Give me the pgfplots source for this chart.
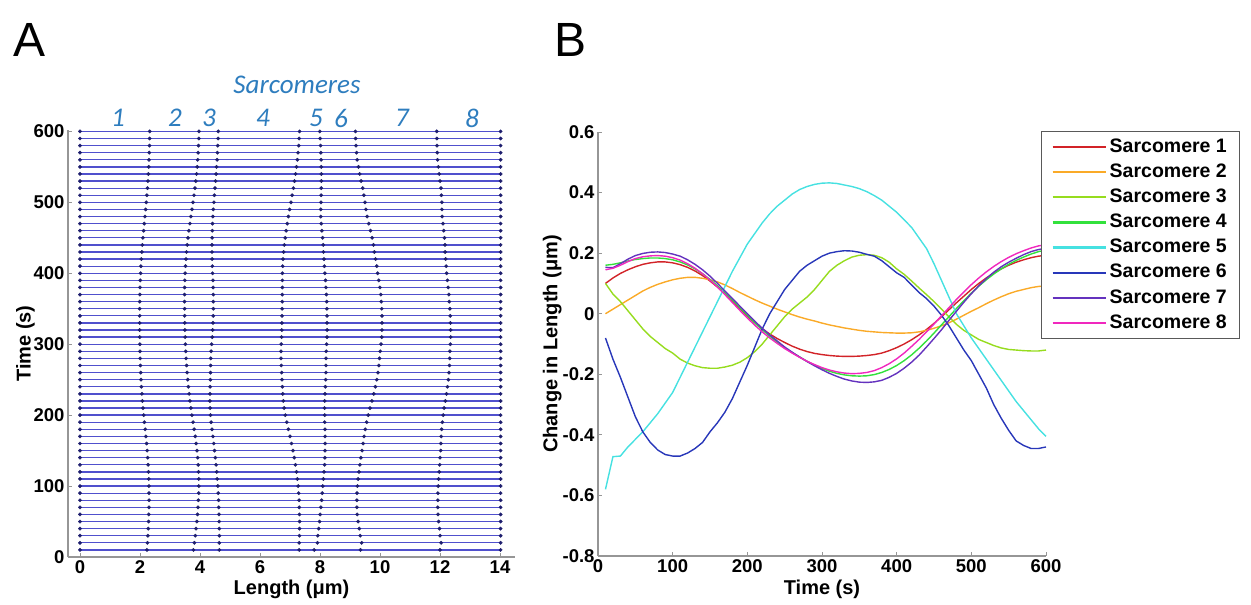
\documentclass[border=0pt]{standalone}
\usepackage{fontspec}
\setmainfont{Liberation Sans}
\newfontfamily\carlito{Carlito}
\usepackage{pgfplots}
\usepackage{pgfplotstable}
\pgfplotsset{compat=1.18}

\definecolor{zline}{RGB}{80,80,205}
\definecolor{zdot}{RGB}{30,30,110}
\definecolor{sblue}{RGB}{46,125,190}
\definecolor{axgray}{RGB}{150,150,150}
\definecolor{cA}{RGB}{210,35,40}
\definecolor{cB}{RGB}{250,170,40}
\definecolor{cC}{RGB}{150,220,30}
\definecolor{cD}{RGB}{50,225,60}
\definecolor{cE}{RGB}{70,225,225}
\definecolor{cF}{RGB}{40,55,185}
\definecolor{cG}{RGB}{100,50,190}
\definecolor{cH}{RGB}{240,40,190}

\pgfplotstableread{
t b0 b1 b2 b3 b4 b5 b6 b7 b8
10 0 2.230 3.780 4.645 7.305 7.805 9.350 11.998 14.02
20 0 2.248 3.813 4.643 7.306 7.914 9.389 12.036 14.02
30 0 2.263 3.843 4.648 7.316 7.926 9.341 12.001 14.02
40 0 2.275 3.870 4.645 7.319 7.959 9.309 11.984 14.02
50 0 2.285 3.895 4.640 7.319 7.984 9.269 11.956 14.02
60 0 2.293 3.918 4.633 7.315 8.005 9.240 11.934 14.02
70 0 2.298 3.935 4.625 7.309 8.029 9.229 11.927 14.02
80 0 2.301 3.948 4.618 7.302 8.052 9.227 11.926 14.02
90 0 2.301 3.956 4.606 7.288 8.073 9.233 11.930 14.02
100 0 2.298 3.960 4.595 7.273 8.093 9.248 11.940 14.02
110 0 2.292 3.959 4.574 7.245 8.115 9.270 11.955 14.02
120 0 2.283 3.953 4.555 7.216 8.136 9.301 11.974 14.02
130 0 2.271 3.941 4.534 7.182 8.152 9.332 11.990 14.02
140 0 2.256 3.923 4.510 7.142 8.162 9.362 12.002 14.02
150 0 2.238 3.900 4.485 7.098 8.168 9.403 12.022 14.02
160 0 2.218 3.873 4.458 7.050 8.170 9.435 12.030 14.02
170 0 2.196 3.841 4.430 6.999 8.169 9.469 12.039 14.02
180 0 2.172 3.805 4.400 6.945 8.165 9.510 12.055 14.02
190 0 2.147 3.767 4.372 6.892 8.157 9.557 12.077 14.02
200 0 2.122 3.730 4.350 6.845 8.155 9.610 12.105 14.02
210 0 2.100 3.696 4.336 6.806 8.151 9.666 12.136 14.02
220 0 2.080 3.665 4.330 6.777 8.157 9.732 12.179 14.02
230 0 2.063 3.638 4.333 6.759 8.169 9.794 12.219 14.02
240 0 2.048 3.613 4.338 6.744 8.179 9.844 12.249 14.02
250 0 2.035 3.591 4.346 6.734 8.189 9.894 12.279 14.02
260 0 2.023 3.570 4.350 6.722 8.197 9.932 12.300 14.02
270 0 2.013 3.552 4.352 6.709 8.199 9.964 12.316 14.02
280 0 2.005 3.537 4.357 6.700 8.200 9.985 12.322 14.02
290 0 1.999 3.525 4.370 6.700 8.207 10.007 12.330 14.02
300 0 1.995 3.514 4.389 6.708 8.219 10.034 12.344 14.02
310 0 1.992 3.505 4.410 6.720 8.232 10.057 12.355 14.02
320 0 1.990 3.498 4.423 6.726 8.236 10.066 12.354 14.02
330 0 1.989 3.492 4.432 6.730 8.235 10.068 12.347 14.02
340 0 1.989 3.488 4.440 6.735 8.235 10.067 12.340 14.02
350 0 1.990 3.485 4.443 6.737 8.230 10.058 12.327 14.02
360 0 1.992 3.484 4.444 6.739 8.222 10.043 12.311 14.02
370 0 1.995 3.485 4.443 6.742 8.212 10.027 12.297 14.02
380 0 2.000 3.488 4.438 6.744 8.199 9.999 12.274 14.02
390 0 2.008 3.495 4.430 6.746 8.181 9.961 12.246 14.02
400 0 2.018 3.504 4.417 6.746 8.161 9.921 12.219 14.02
410 0 2.030 3.516 4.411 6.756 8.146 9.891 12.206 14.02
420 0 2.044 3.531 4.404 6.768 8.133 9.853 12.188 14.02
430 0 2.060 3.550 4.400 6.786 8.116 9.811 12.169 14.02
440 0 2.078 3.573 4.401 6.811 8.106 9.781 12.166 14.02
450 0 2.098 3.600 4.405 6.841 8.086 9.736 12.149 14.02
460 0 2.120 3.630 4.410 6.873 8.063 9.683 12.125 14.02
470 0 2.143 3.663 4.418 6.908 8.043 9.628 12.101 14.02
480 0 2.166 3.698 4.428 6.945 8.025 9.570 12.073 14.02
490 0 2.188 3.733 4.443 6.986 8.026 9.531 12.064 14.02
500 0 2.210 3.768 4.463 7.031 8.031 9.501 12.062 14.02
510 0 2.230 3.800 4.480 7.071 8.036 9.461 12.048 14.02
520 0 2.248 3.831 4.501 7.113 8.043 9.423 12.034 14.02
530 0 2.264 3.859 4.519 7.150 8.045 9.370 12.002 14.02
540 0 2.278 3.884 4.536 7.184 8.044 9.324 11.974 14.02
550 0 2.290 3.906 4.553 7.216 8.041 9.281 11.946 14.02
560 0 2.300 3.924 4.569 7.245 8.035 9.240 11.918 14.02
570 0 2.308 3.938 4.581 7.268 8.028 9.218 11.908 14.02
580 0 2.315 3.951 4.593 7.290 8.020 9.200 11.900 14.02
590 0 2.320 3.960 4.602 7.307 8.007 9.187 11.894 14.02
600 0 2.323 3.965 4.610 7.320 7.995 9.180 11.891 14.02
}\zlines

\pgfplotstableread{
t s1 s2 s3 s4 s5 s6 s7 s8
10 0.100 0.000 0.100 0.160 -0.580 -0.080 0.153 0.145
20 0.118 0.015 0.065 0.163 -0.472 -0.150 0.152 0.150
30 0.133 0.030 0.040 0.168 -0.470 -0.210 0.165 0.160
40 0.145 0.045 0.010 0.174 -0.440 -0.275 0.180 0.172
50 0.155 0.060 -0.020 0.179 -0.415 -0.340 0.192 0.182
60 0.163 0.075 -0.050 0.182 -0.390 -0.390 0.199 0.188
70 0.168 0.087 -0.075 0.184 -0.360 -0.425 0.203 0.191
80 0.171 0.097 -0.095 0.184 -0.330 -0.450 0.204 0.192
90 0.171 0.105 -0.115 0.182 -0.295 -0.465 0.202 0.190
100 0.168 0.112 -0.130 0.178 -0.260 -0.470 0.197 0.185
110 0.162 0.117 -0.150 0.171 -0.210 -0.470 0.190 0.177
120 0.153 0.120 -0.163 0.161 -0.160 -0.460 0.178 0.165
130 0.141 0.120 -0.172 0.148 -0.110 -0.445 0.163 0.150
140 0.126 0.117 -0.178 0.132 -0.060 -0.425 0.145 0.132
150 0.108 0.112 -0.180 0.113 -0.010 -0.390 0.124 0.111
160 0.088 0.105 -0.180 0.092 0.040 -0.360 0.100 0.088
170 0.066 0.095 -0.176 0.069 0.090 -0.325 0.075 0.063
180 0.042 0.083 -0.170 0.045 0.140 -0.280 0.050 0.037
190 0.017 0.070 -0.160 0.020 0.185 -0.225 0.025 0.011
200 -0.008 0.058 -0.145 -0.005 0.230 -0.170 0.000 -0.014
210 -0.030 0.046 -0.125 -0.030 0.265 -0.110 -0.025 -0.038
220 -0.050 0.035 -0.100 -0.053 0.300 -0.050 -0.048 -0.060
230 -0.067 0.025 -0.070 -0.074 0.330 0.000 -0.070 -0.080
240 -0.082 0.015 -0.040 -0.094 0.355 0.040 -0.090 -0.098
250 -0.095 0.006 -0.010 -0.112 0.375 0.080 -0.110 -0.115
260 -0.107 -0.003 0.015 -0.128 0.395 0.110 -0.127 -0.130
270 -0.117 -0.011 0.035 -0.143 0.410 0.140 -0.143 -0.144
280 -0.125 -0.018 0.055 -0.157 0.420 0.160 -0.158 -0.157
290 -0.131 -0.024 0.080 -0.170 0.427 0.175 -0.172 -0.168
300 -0.135 -0.031 0.110 -0.181 0.431 0.190 -0.185 -0.178
310 -0.138 -0.037 0.140 -0.190 0.432 0.200 -0.197 -0.186
320 -0.140 -0.042 0.160 -0.197 0.430 0.205 -0.207 -0.192
330 -0.141 -0.047 0.175 -0.202 0.425 0.208 -0.216 -0.196
340 -0.141 -0.051 0.187 -0.205 0.420 0.207 -0.222 -0.198
350 -0.140 -0.055 0.193 -0.206 0.413 0.203 -0.226 -0.197
360 -0.138 -0.058 0.195 -0.205 0.403 0.196 -0.227 -0.194
370 -0.135 -0.060 0.193 -0.201 0.390 0.190 -0.225 -0.188
380 -0.130 -0.062 0.185 -0.194 0.375 0.175 -0.220 -0.178
390 -0.122 -0.063 0.170 -0.184 0.355 0.155 -0.210 -0.165
400 -0.112 -0.064 0.148 -0.171 0.335 0.135 -0.197 -0.149
410 -0.100 -0.064 0.130 -0.155 0.310 0.120 -0.180 -0.130
420 -0.086 -0.063 0.108 -0.136 0.285 0.095 -0.160 -0.108
430 -0.070 -0.060 0.085 -0.114 0.250 0.070 -0.137 -0.085
440 -0.052 -0.055 0.063 -0.090 0.215 0.050 -0.110 -0.060
450 -0.032 -0.048 0.040 -0.064 0.165 0.025 -0.082 -0.034
460 -0.010 -0.040 0.015 -0.037 0.110 -0.005 -0.053 -0.007
470 0.013 -0.030 -0.010 -0.010 0.055 -0.040 -0.022 0.020
480 0.036 -0.018 -0.035 0.017 0.000 -0.080 0.008 0.047
490 0.058 -0.005 -0.055 0.043 -0.040 -0.120 0.038 0.072
500 0.080 0.008 -0.070 0.068 -0.080 -0.155 0.066 0.096
510 0.100 0.020 -0.085 0.091 -0.115 -0.200 0.092 0.118
520 0.118 0.033 -0.095 0.112 -0.150 -0.245 0.116 0.138
530 0.134 0.045 -0.105 0.131 -0.185 -0.300 0.137 0.156
540 0.148 0.056 -0.113 0.148 -0.220 -0.345 0.155 0.172
550 0.160 0.066 -0.118 0.163 -0.255 -0.385 0.170 0.186
560 0.170 0.074 -0.120 0.176 -0.290 -0.420 0.183 0.198
570 0.178 0.080 -0.122 0.187 -0.320 -0.435 0.195 0.208
580 0.185 0.086 -0.123 0.197 -0.350 -0.445 0.205 0.217
590 0.190 0.090 -0.123 0.205 -0.380 -0.445 0.212 0.224
600 0.193 0.092 -0.120 0.210 -0.405 -0.440 0.216 0.228
}\changes

\pgfplotsset{
  matlabaxis/.style={
    scale only axis,
    axis x line*=bottom, axis y line*=left,
    axis line style={draw=axgray, line width=1.2pt},
    tick align=inside, major tick length=4pt,
    every tick/.style={draw=axgray, line width=0.8pt},
    ticklabel style={font=\fontsize{18.5}{20}\selectfont\bfseries},
    label style={font=\fontsize{20}{22}\selectfont\bfseries},
  }
}

\begin{document}
\begin{tikzpicture}[x=1pt,y=1pt]
\useasboundingbox (0,0) rectangle (1251,605);

% ---------------- Panel A ----------------
\begin{axis}[matlabaxis,
  at={(68pt,48pt)}, anchor=south west,
  width=447pt, height=427pt,
  xmin=-0.4, xmax=14.5, ymin=0, ymax=602,
  xtick={0,2,4,6,8,10,12,14},
  xticklabels={0,2,4,6,8,10,12,14},
  ytick={0,100,200,300,400,500,600},
  yticklabels={0,100,200,300,400,500,600},
  xlabel={Length (μm)},
  ylabel={Time (s)},
  ylabel shift=-8pt,
  clip=false,
]
\addplot[xcomb, draw=zline, line width=1.3pt, mark=none] table[x=b8,y=t]{\zlines};
\pgfplotsinvokeforeach{0,...,8}{
  \addplot[only marks, mark=*, mark size=1.7pt, color=zdot] table[x=b#1,y=t]{\zlines};
}
\end{axis}

% ---------------- Panel B ----------------
\begin{axis}[matlabaxis,
  at={(598pt,49pt)}, anchor=south west,
  width=448pt, height=424pt,
  xmin=0, xmax=600, ymin=-0.8, ymax=0.6,
  xtick={0,100,200,300,400,500,600},
  xticklabels={0,100,200,300,400,500,600},
  ytick={-0.8,-0.6,-0.4,-0.2,0,0.2,0.4,0.6},
  yticklabels={-0.8,-0.6,-0.4,-0.2,0,0.2,0.4,0.6},
  xlabel={Time (s)},
  ylabel={Change in Length (μm)},
  ylabel shift=-6pt,
  clip=false,
  legend style={at={(0.989,1.002)}, anchor=north west,
    draw=black!65, line width=0.9pt, fill=white,
    inner xsep=10pt, inner ysep=3pt, row sep=0pt,
    font=\fontsize{19.5}{22}\selectfont\bfseries,
    nodes={inner xsep=3pt, inner ysep=3.3pt, text height=14.5pt, text depth=4pt},
    cells={anchor=west}},
  legend image code/.code={\draw[#1, line width=2.2pt] (0pt,0pt) -- (53pt,0pt);},
  every axis plot/.append style={line width=1.4pt, mark=none},
]
\addplot[cA] table[x=t,y=s1]{\changes};
\addplot[cB] table[x=t,y=s2]{\changes};
\addplot[cC] table[x=t,y=s3]{\changes};
\addplot[cD] table[x=t,y=s4]{\changes};
\addplot[cE] table[x=t,y=s5]{\changes};
\addplot[cF] table[x=t,y=s6]{\changes};
\addplot[cG] table[x=t,y=s7]{\changes};
\addplot[cH] table[x=t,y=s8]{\changes};
\legend{Sarcomere 1,Sarcomere 2,Sarcomere 3,Sarcomere 4,Sarcomere 5,Sarcomere 6,Sarcomere 7,Sarcomere 8}
\end{axis}

% ---------------- Annotations ----------------
\node[font=\fontsize{48}{50}\selectfont] at (30,565) {A};
\node[font=\fontsize{48}{50}\selectfont] at (571,565) {B};
\begin{scope}[every node/.style={text=sblue, font=\carlito\itshape\fontsize{27}{30}\selectfont}]
\node at (297,520) {Sarcomeres};
\node at (118,487) {1};
\node at (175,487) {2};
\node at (209,487) {3};
\node at (263,487) {4};
\node at (316,487) {5};
\node at (341,487) {6};
\node at (402,487) {7};
\node at (472,487) {8};
\end{scope}
\end{tikzpicture}
\end{document}
